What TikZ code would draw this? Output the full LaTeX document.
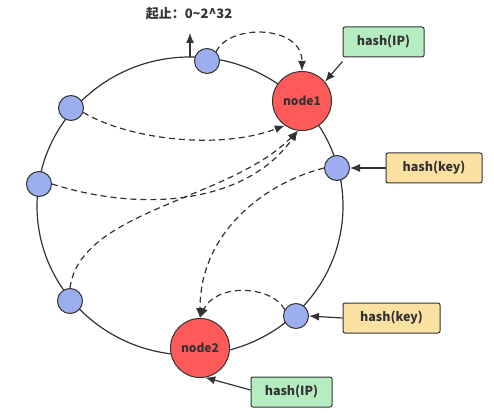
\documentclass[tikz,border=0pt]{standalone}
\usepackage{fontspec}
\setmainfont{Noto Sans CJK SC}
\usepackage{tikz}
\usetikzlibrary{arrows.meta}

\definecolor{linegray}{HTML}{333333}
\definecolor{dotblue}{HTML}{9DAEF0}
\definecolor{nodered}{HTML}{FF5A5A}
\definecolor{ipgreen}{HTML}{B5EDC0}
\definecolor{keyyellow}{HTML}{FBE2A3}

\begin{document}
\begin{tikzpicture}[x=1pt,y=-1pt]
		\tikzset{ringdot/.style={circle,draw=linegray,fill=dotblue,line width=1pt,minimum size=25pt,inner sep=0pt}};
		\tikzset{server/.style={circle,draw=linegray,fill=nodered,line width=1pt,minimum size=59pt,inner sep=0pt,font=\bfseries\fontsize{12}{14}\selectfont,text=linegray}};
		\tikzset{hashbox/.style={draw=linegray,line width=1pt,rounded corners=2pt,minimum height=30pt,inner sep=0pt,font=\bfseries\fontsize{12.5}{14}\selectfont,text=linegray}};
		\tikzset{dasharrow/.style={dashed,dash pattern=on 6pt off 4pt,line width=1.2pt,linegray,-{Latex[length=10pt,width=8pt]}}};
		\tikzset{solidarrow/.style={line width=1.2pt,linegray,-{Latex[length=10pt,width=8pt]}}};
		\useasboundingbox (0,0) rectangle (494,419);
		% hash ring
		\draw[line width=1.2pt,linegray] (190,206) ellipse [x radius=153pt, y radius=149pt];
		\coordinate (origin) at (190,57);
		\coordinate (origintop) at (190,33);
		\draw[solidarrow] (origin) -- (origintop);
		\node[font=\bfseries\fontsize{13}{15}\selectfont,text=linegray] (range) at (189,14) {起止：0\textasciitilde 2\textasciicircum 32};
		% points on the ring
		\node[ringdot] (topdot) at (207,61) {};
		\node[ringdot] (upleftdot) at (71,108) {};
		\node[ringdot] (leftdot) at (39,184) {};
		\node[ringdot] (lowleftdot) at (70,301) {};
		\node[ringdot] (keydot) at (337,168) {};
		\node[ringdot] (lowkeydot) at (296,316) {};
		\node[server] (node1) at (302,101) {node1};
		\node[server] (node2) at (200,348) {node2};
		% hash labels
		\node[hashbox,fill=ipgreen,minimum width=81pt] (iptop) at (383.5,42) {hash(IP)};
		\node[hashbox,fill=keyyellow,minimum width=96pt] (keytop) at (434,168) {hash(key)};
		\node[hashbox,fill=keyyellow,minimum width=97pt] (keylow) at (391.5,318) {hash(key)};
		\node[hashbox,fill=ipgreen,minimum width=81pt] (iplow) at (291.5,392) {hash(IP)};
		\draw[solidarrow] ([yshift=-4pt]iptop.south west) -- (node1.40);
		\draw[solidarrow] (keytop.west) -- (keydot.east);
		\draw[solidarrow] (keylow.west) -- (lowkeydot.east);
		\draw[solidarrow] ([yshift=2pt]iplow.west) -- (node2.-80);
		% clockwise lookup
		\draw[dasharrow] (topdot.45) .. controls (228,24) and (302,24) .. (node1.north);
		\draw[dasharrow] (upleftdot.-20) .. controls (130,140) and (220,150) .. (node1.235);
		\draw[dasharrow] (leftdot.east) .. controls (150,215) and (250,200) .. (node1.262);
		\draw[dasharrow] (lowleftdot.north) .. controls (80,210) and (230,200) .. (node1.262);
		\draw[dasharrow] (keydot.west) .. controls (268,182) and (200,230) .. (node2.north);
		\draw[dasharrow] (lowkeydot.150) .. controls (270,284) and (215,284) .. (node2.north);
	\end{tikzpicture}
\end{document}
